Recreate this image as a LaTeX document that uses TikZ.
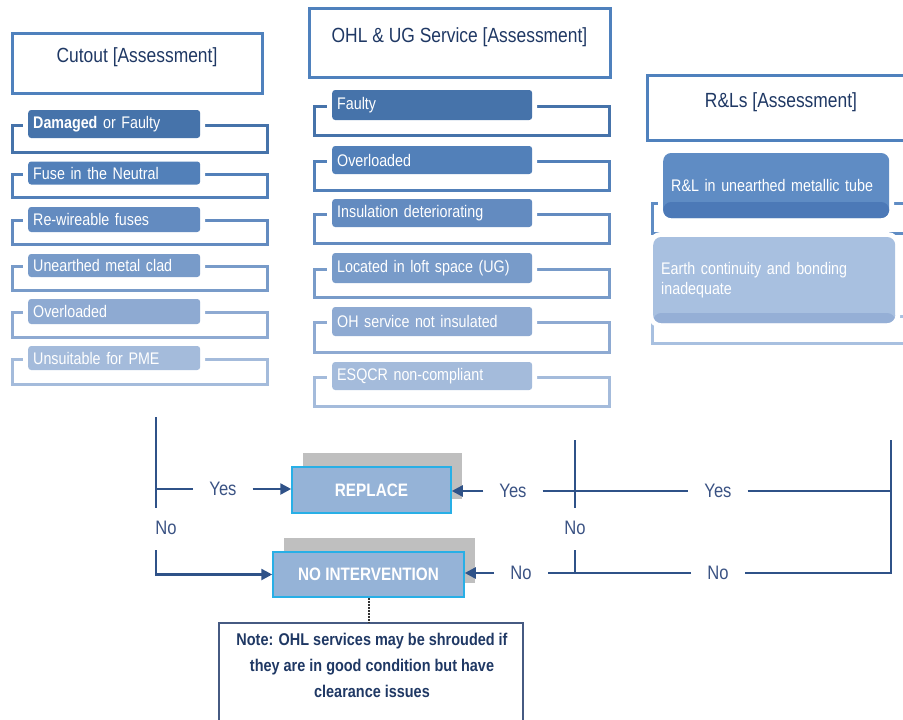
\documentclass[tikz,border=0pt]{standalone}
\usepackage{fontspec}
\setmainfont{Liberation Sans}[FakeStretch=0.85]
\usepackage{tikz}
\usetikzlibrary{
	arrows.meta,
	calc,
	positioning,
	shadows,
}
\definecolor{headblue}{RGB}{79,129,189}
\definecolor{headtext}{RGB}{31,56,100}
\definecolor{lvlA}{RGB}{70,115,170}
\definecolor{lvlB}{RGB}{82,128,185}
\definecolor{lvlC}{RGB}{99,139,192}
\definecolor{lvlD}{RGB}{120,155,201}
\definecolor{lvlE}{RGB}{142,170,210}
\definecolor{lvlF}{RGB}{164,187,219}
\definecolor{rlA}{RGB}{95,140,196}
\definecolor{rlAband}{RGB}{76,121,183}
\definecolor{rlB}{RGB}{168,192,224}
\definecolor{rlBband}{RGB}{149,175,214}
\definecolor{flowline}{RGB}{47,82,136}
\definecolor{yntext}{RGB}{58,82,131}
\definecolor{boxfill}{RGB}{149,179,215}
\definecolor{boxedge}{RGB}{40,175,230}
\definecolor{noteedge}{RGB}{70,90,130}

\newcommand{\headfont}{\fontsize{20.5}{24}\selectfont}
\newcommand{\itemfont}{\fontsize{16.8}{20}\selectfont}
\newcommand{\ynfont}{\fontsize{19.5}{22}\selectfont}
\newcommand{\boxfont}{\fontsize{18}{21}\selectfont\bfseries}
\newcommand{\notefont}{\fontsize{17}{26}\selectfont\bfseries}

\tikzset{head box/.style={draw=headblue,line width=3pt,text=headtext,font=\headfont,text depth=15pt,}}
\tikzset{bracket/.style={line width=3pt,}}
\tikzset{item/.style={anchor=west,rounded corners=3pt,text=white,font=\itemfont,inner xsep=5pt,inner ysep=0pt,align=left,preaction={draw=white,line width=10pt},}}
\tikzset{rl item/.style={item,rounded corners=8pt,inner xsep=8pt,preaction={draw=white,line width=7pt},}}
\tikzset{band/.style 2 args={path picture={\fill[#1] (path picture bounding box.south west) rectangle ([yshift=#2]path picture bounding box.south east);}}}
\tikzset{flow/.style={draw=flowline,line width=2.5pt,}}
\tikzset{yn/.style={text=yntext,font=\ynfont,inner xsep=16pt,inner ysep=2pt,}}
\tikzset{action box/.style={fill=boxfill,draw=boxedge,line width=1.5pt,text=white,font=\boxfont,
	drop shadow={shadow xshift=11pt,shadow yshift=14pt,fill=black!25,opacity=1},}}
\tikzset{note box/.style={draw=noteedge,line width=1.5pt,}}
\tikzset{
	>={Triangle[length=11pt,width=11pt]},
}

\begin{document}
\begin{tikzpicture}[x=1pt,y=-1pt]
\useasboundingbox (0,0) rectangle (903,720);
\clip (0,0) rectangle (903,720);

% assessment headers
\node[head box,minimum width=250pt,minimum height=60pt] (cuthead) at (137,63) {Cutout [Assessment]};
\node[head box,minimum width=301pt,minimum height=69pt] (ohlhead) at (459.5,42.5) {OHL \& UG Service [Assessment]};
\node[head box,minimum width=268pt,minimum height=65pt] (rlhead) at (781,107.5) {R\&Ls [Assessment]};

% cutout column
\foreach \n/\txt/\yc/\h/\yb/\col in {
	1/{\textbf{Damaged} or Faulty}/124/28/152/lvlA,
	2/Fuse in the Neutral/173/23/197/lvlB,
	3/Re-wireable fuses/219.5/25/244/lvlC,
	4/Unearthed metal clad/265.5/23/290/lvlD,
	5/Overloaded/311.5/25/337/lvlE,
	6/Unsuitable for PME/358/24/384/lvlF}{
	\draw[bracket,draw=\col] (12,{\yc+1}) rectangle (267,\yb);
	\node[item,fill=\col,minimum height=\h pt,text width=162pt] (cut\n) at (28,\yc) {\txt};
}

% OHL & UG column
\foreach \n/\txt/\yc/\h/\yb/\col in {
	1/Faulty/105/30/135/lvlA,
	2/Overloaded/160/28/190/lvlB,
	3/Insulation deteriorating/213/28/243/lvlC,
	4/Located in loft space (UG)/268/30/297/lvlD,
	5/OH service not insulated/321.5/29/352/lvlE,
	6/ESQCR non-compliant/376/28/406/lvlF}{
	\draw[bracket,draw=\col] (314,{\yc+1}) rectangle (609,\yb);
	\node[item,fill=\col,minimum height=\h pt,text width=190pt] (ohl\n) at (332,\yc) {\txt};
}

% R&L column
\draw[bracket,draw=rlA] (652,203) rectangle (915,233);
\node[rl item,fill=rlA,band={rlAband}{16pt},minimum height=65pt,text width=210pt] (rl1) at (663,185.5) {R\&L in unearthed metallic tube};
\draw[bracket,draw=rlB] (652,316) rectangle (915,343);
\node[rl item,fill=rlB,band={rlBband}{10pt},minimum height=86pt,text width=226pt] (rl2) at (653,280) {Earth continuity and bonding\\inadequate};

% outcomes
\node[action box,minimum width=159pt,minimum height=46pt] (replace) at (371.5,490) {REPLACE};
\node[action box,minimum width=191pt,minimum height=45pt] (nointerv) at (368.5,574.5) {NO INTERVENTION};

% left branch
\coordinate (lt) at (156,417);
\coordinate (lm) at (156,489);
\coordinate (lb) at (156,508);
\coordinate (ln) at (156,550);
\node[yn] (yes1) at (223,489) {Yes};
\node[yn] (no1) at (166,528) {No};
\draw[flow] (lt) -- (lb);
\draw[flow] (lm) -- (yes1);
\draw[flow,->] (yes1) -- (yes1 -| replace.west);
\draw[flow,->] (ln) |- (nointerv.west);

% right branches
\coordinate (mt) at (575,440);
\coordinate (mb) at (575,508);
\coordinate (mn) at (575,550);
\coordinate (rt) at (891,440);
\coordinate (rb) at (891,573);
\node[yn] (yes2) at (513,491) {Yes};
\node[yn] (yes3) at (718,491) {Yes};
\node[yn] (no2) at (521,573) {No};
\node[yn] (no3) at (718,573) {No};
\node[yn] (no4) at (575,528) {No};
\draw[flow] (mt) -- (mb);
\draw[flow,->] (yes2) -- (yes2 -| replace.east);
\draw[flow] (yes2) -- (yes3);
\draw[flow] (yes3) -- (yes3 -| rt);
\draw[flow] (rt) -- (rb) -- (no3);
\draw[flow] (no3) -- (no2);
\draw[flow] (mn) -- (mn |- no2);
\draw[flow,->] (no2) -- (no2 -| nointerv.east);

% note
\node[note box,minimum width=304pt,minimum height=120pt,anchor=north] (note) at (371,622) {};
\node[text=headtext,font=\notefont,align=center] (notetext) at (372,665) {Note: OHL services may be shrouded if\\they are in good condition but have\\clearance issues};
\draw[draw=black!80,line width=2pt,densely dotted] (nointerv.south) -- (nointerv.south |- note.north);
\end{tikzpicture}
\end{document}
